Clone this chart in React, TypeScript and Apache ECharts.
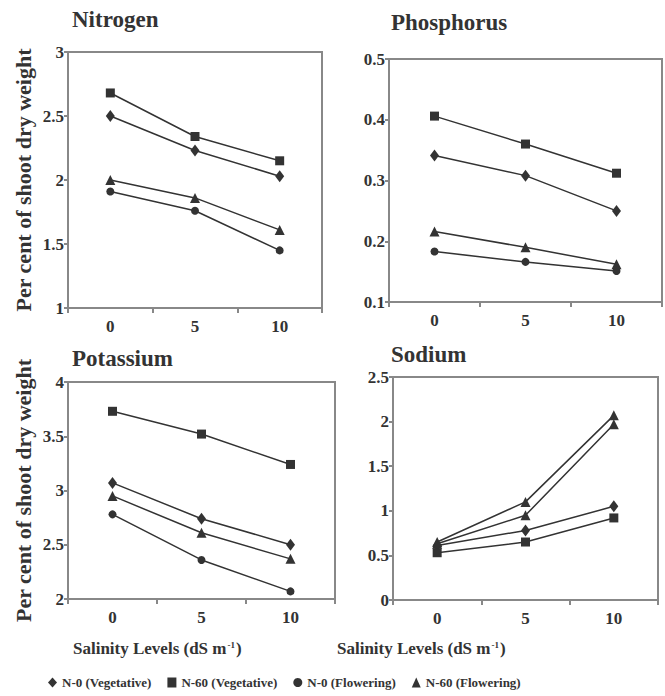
import React, { useEffect, useRef } from "react";
import * as echarts from "echarts";

const FONT = "Liberation Serif, serif";
const TXT = "#333";
const BOX = "#888";
const LINE = "#333";

const salinity = ["0", "5", "10"];
const seriesNames = ["N-0 (Vegetative)", "N-60 (Vegetative)", "N-0 (Flowering)", "N-60 (Flowering)"];

const nitrogenN0Veg = [2.5, 2.23, 2.03];
const nitrogenN60Veg = [2.68, 2.34, 2.15];
const nitrogenN0Flw = [1.91, 1.76, 1.45];
const nitrogenN60Flw = [2.0, 1.86, 1.61];

const phosphorusN0Veg = [0.341, 0.308, 0.25];
const phosphorusN60Veg = [0.406, 0.36, 0.312];
const phosphorusN0Flw = [0.183, 0.166, 0.151];
const phosphorusN60Flw = [0.216, 0.19, 0.162];

const potassiumN0Veg = [3.07, 2.74, 2.5];
const potassiumN60Veg = [3.73, 3.52, 3.24];
const potassiumN0Flw = [2.78, 2.36, 2.07];
const potassiumN60Flw = [2.95, 2.61, 2.37];

const sodiumN0Veg = [0.61, 0.78, 1.05];
const sodiumN60Veg = [0.53, 0.65, 0.92];
const sodiumN0Flw = [0.63, 0.95, 1.97];
const sodiumN60Flw = [0.65, 1.1, 2.07];

const symbols = ["diamond", "rect", "circle", "triangle"];
const symbolSizes: any[] = [[9, 12], 9, 8, 10];

const panels = [
  {
    title: "Nitrogen",
    data: [nitrogenN0Veg, nitrogenN60Veg, nitrogenN0Flw, nitrogenN60Flw],
    min: 1, max: 3, interval: 0.5,
    grid: { left: 68, top: 52, width: 254, height: 256 },
    titlePos: { left: 72, top: 8 },
    yName: true, sym: symbols,
  },
  {
    title: "Phosphorus",
    data: [phosphorusN0Veg, phosphorusN60Veg, phosphorusN0Flw, phosphorusN60Flw],
    min: 0.1, max: 0.5, interval: 0.1,
    grid: { left: 389, top: 59, width: 273, height: 243 },
    titlePos: { left: 391, top: 11 },
    yName: false, sym: symbols,
  },
  {
    title: "Potassium",
    data: [potassiumN0Veg, potassiumN60Veg, potassiumN0Flw, potassiumN60Flw],
    min: 2, max: 4, interval: 0.5,
    grid: { left: 68, top: 382, width: 267, height: 217 },
    titlePos: { left: 72, top: 347 },
    yName: true, sym: symbols,
  },
  {
    title: "Sodium",
    data: [sodiumN0Veg, sodiumN60Veg, sodiumN0Flw, sodiumN60Flw],
    min: 0, max: 2.5, interval: 0.5,
    grid: { left: 393, top: 377, width: 265, height: 223 },
    titlePos: { left: 391, top: 343 },
    yName: false, sym: ["diamond", "rect", "triangle", "triangle"],
  },
];

export default function App() {
  const ref = useRef<HTMLDivElement>(null);
  useEffect(() => {
    const chart = echarts.init(ref.current!, null, { renderer: "svg" });
    const labelStyle = { fontFamily: FONT, fontWeight: "bold", fontSize: 17, color: TXT };
    const option: any = {
      animation: false,
      backgroundColor: "#fff",
      title: panels.map((p) => ({
        text: p.title,
        left: p.titlePos.left,
        top: p.titlePos.top,
        padding: 0,
        textStyle: { fontFamily: FONT, fontWeight: "bold", fontSize: 23, color: TXT },
      })),
      grid: panels.map((p) => ({
        ...p.grid,
        show: true,
        borderColor: BOX,
        borderWidth: 2,
        containLabel: false,
      })),
      xAxis: panels.map((p, i) => ({
        type: "category",
        gridIndex: i,
        data: salinity,
        boundaryGap: true,
        axisLine: { show: true, lineStyle: { color: BOX, width: 2 } },
        axisTick: { show: true, interval: 0, length: 5, lineStyle: { color: BOX, width: 2 } },
        axisLabel: { ...labelStyle, margin: 10 },
        splitLine: { show: false },
      })),
      yAxis: panels.map((p, i) => ({
        type: "value",
        gridIndex: i,
        min: p.min,
        max: p.max,
        interval: p.interval,
        name: p.yName ? "Per cent of shoot dry weight" : "",
        nameLocation: "middle",
        nameGap: 34,
        nameTextStyle: { fontFamily: FONT, fontWeight: "bold", fontSize: 22, color: TXT },
        axisLine: { show: true, lineStyle: { color: BOX, width: 2 } },
        axisTick: { show: true, length: 4, lineStyle: { color: BOX, width: 2 } },
        axisLabel: { ...labelStyle, margin: 4 },
        splitLine: { show: false },
      })),
      legend: {
        bottom: 2,
        left: 43,
        itemWidth: 9,
        itemHeight: 10,
        itemGap: 16,
        textStyle: { fontFamily: FONT, fontWeight: "bold", fontSize: 13, color: TXT },
        data: seriesNames.map((n, k) => ({ name: n, icon: symbols[k] })),
      },
      series: panels.flatMap((p, i) =>
        p.data.map((d, k) => ({
          type: "line",
          name: seriesNames[k],
          xAxisIndex: i,
          yAxisIndex: i,
          data: d,
          symbol: p.sym[k],
          symbolSize: p.sym[k] === "triangle" ? 10 : symbolSizes[k],
          showSymbol: true,
          color: LINE,
          lineStyle: { color: LINE, width: 1.5 },
          itemStyle: { color: LINE },
          z: 3,
        }))
      ),
      graphic: [
        { left: 73 },
        { left: 337 },
      ].map((g) => ({
        type: "text",
        left: g.left,
        top: 640,
        style: {
          text: "{a|Salinity Levels (dS m}{s|-1}{a|)}",
          rich: {
            a: { fontFamily: FONT, fontWeight: "bold", fontSize: 17, fill: TXT },
            s: { fontFamily: FONT, fontWeight: "bold", fontSize: 9, fill: TXT, verticalAlign: "top", padding: [0, 1, 8, 1] },
          },
        },
      })),
    };
    chart.setOption(option);
    return () => chart.dispose();
  }, []);
  return (
    <div
      ref={ref}
      style={{ position: "absolute", left: 0, top: 0, width: 665, height: 696 }}
    />
  );
}
